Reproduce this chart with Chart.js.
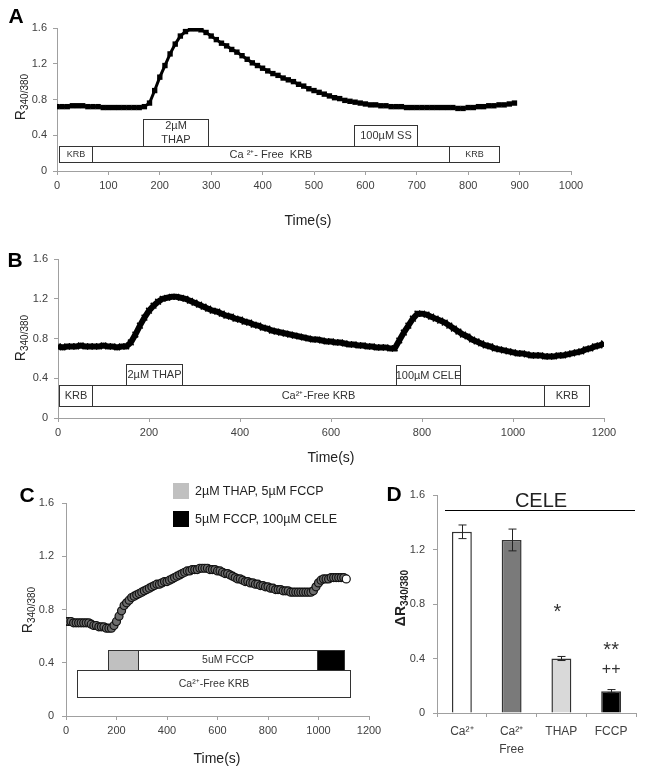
<!DOCTYPE html>
<html>
<head>
<meta charset="utf-8">
<script src="https://cdn.jsdelivr.net/npm/chart.js@4.4.0/dist/chart.umd.min.js"></script>
<style>
  body { margin: 0; background: #fff; }
  #fig { position: relative; width: 645px; height: 774px; font-family: 'Liberation Sans', Arial, sans-serif; color: #222; }
  canvas { position: absolute; }
  .lbl { position: absolute; transform: translate(-50%, -50%); white-space: nowrap; }
  .panel { font-weight: bold; font-size: 21px; color: #000; }
  .ytitle { position: absolute; transform: translate(-50%, -50%) rotate(-90deg); white-space: nowrap; font-size: 14px; }
  .ytitle sub { font-size: 10px; vertical-align: -3px; }
  .xtitle { font-size: 14px; }
  .sq { position: absolute; width: 16px; height: 16px; }
</style>
</head>
<body>
<div id="fig">
  <canvas id="cA" width="645" height="230" style="left:0;top:0"></canvas>
  <canvas id="cB" width="645" height="225" style="left:0;top:225px"></canvas>
  <canvas id="cC" width="400" height="324" style="left:0;top:450px"></canvas>
  <canvas id="cD" width="265" height="324" style="left:380px;top:450px"></canvas>

  <div class="lbl panel" style="left:16px;top:16px">A</div>
  <div class="lbl panel" style="left:15px;top:260px">B</div>
  <div class="lbl panel" style="left:27px;top:495px">C</div>
  <div class="lbl panel" style="left:394px;top:494px">D</div>

  <div class="ytitle" style="left:21px;top:97px">R<sub>340/380</sub></div>
  <div class="ytitle" style="left:21px;top:338px">R<sub>340/380</sub></div>
  <div class="ytitle" style="left:28px;top:610px">R<sub>340/380</sub></div>
  <div class="ytitle" style="left:401px;top:598px;font-weight:bold">ΔR<sub>340/380</sub></div>

  <div class="lbl xtitle" style="left:308px;top:220px">Time(s)</div>
  <div class="lbl xtitle" style="left:331px;top:457px">Time(s)</div>
  <div class="lbl xtitle" style="left:217px;top:758px">Time(s)</div>

  <div class="sq" style="left:173px;top:483px;background:#c0c0c0"></div>
  <div class="lbl" style="left:195px;top:491px;transform:translateY(-50%);font-size:12.5px">2µM THAP, 5µM FCCP</div>
  <div class="sq" style="left:173px;top:511px;background:#000"></div>
  <div class="lbl" style="left:195px;top:519px;transform:translateY(-50%);font-size:12.5px">5µM FCCP, 100µM CELE</div>

  <div class="lbl" style="left:541px;top:500px;font-size:20px">CELE</div>
  <div style="position:absolute;left:445px;top:510px;width:190px;height:1px;background:#000"></div>
</div>
<script>
// Fura-2 ratio traces, one sample every 10 s
const aStep = 10;
const aRatio = [0.72,0.72,0.72,0.73,0.73,0.73,0.72,0.72,0.72,0.71,0.71,0.71,0.71,0.71,0.71,0.71,0.71,0.72,
  0.76,0.90,1.05,1.18,1.31,1.42,1.51,1.56,1.59,1.59,1.58,1.55,
  1.51,1.47,1.43,1.40,1.36,1.33,1.29,1.25,1.21,1.18,
  1.15,1.12,1.09,1.07,1.04,1.02,1.00,0.97,0.95,0.92,
  0.90,0.88,0.86,0.84,0.82,0.81,0.79,0.78,0.77,0.76,
  0.75,0.74,0.74,0.73,0.73,0.72,0.72,0.72,0.71,0.71,
  0.71,0.71,0.71,0.71,0.71,0.71,0.71,0.71,0.70,0.70,
  0.71,0.71,0.72,0.72,0.73,0.73,0.74,0.74,0.75,0.76];

const bStep = 10;
const bRatio = [0.72,0.71,0.72,0.72,0.72,0.73,0.72,0.72,0.72,0.72,0.73,0.72,0.72,0.71,0.72,0.72,
  0.76,0.84,0.93,1.01,1.08,1.13,1.17,1.20,1.21,1.22,
  1.22,1.21,1.20,1.18,1.16,1.14,1.12,1.10,1.08,1.07,
  1.05,1.03,1.02,1.00,0.99,0.97,0.96,0.94,0.93,0.91,
  0.90,0.88,0.87,0.86,0.85,0.84,0.83,0.82,0.81,0.80,
  0.79,0.79,0.78,0.77,0.77,0.76,0.76,0.75,0.74,0.74,
  0.73,0.73,0.72,0.72,0.71,0.71,0.71,0.70,0.70,0.78,
  0.86,0.93,1.00,1.05,1.05,1.04,1.02,1.00,0.98,0.96,
  0.93,0.90,0.87,0.84,0.82,0.79,0.77,0.75,0.73,0.72,
  0.70,0.69,0.68,0.67,0.66,0.65,0.65,0.64,0.63,0.63,
  0.63,0.62,0.62,0.62,0.63,0.63,0.64,0.65,0.66,0.67,
  0.69,0.70,0.72,0.73,0.75,0.76];

const cStep = 10;
const cRatio = [0.71,0.71,0.71,0.70,0.70,0.70,0.70,0.70,0.70,0.70,
  0.69,0.68,0.68,0.67,0.67,0.67,0.66,0.66,0.66,0.68,
  0.71,0.75,0.79,0.83,0.85,0.87,0.89,0.90,0.91,0.92,
  0.93,0.94,0.95,0.96,0.97,0.98,0.99,0.99,1.00,1.01,
  1.01,1.02,1.03,1.04,1.05,1.06,1.07,1.08,1.09,1.09,
  1.10,1.10,1.10,1.11,1.11,1.11,1.11,1.10,1.10,1.10,
  1.09,1.09,1.08,1.07,1.07,1.06,1.05,1.04,1.03,1.03,
  1.02,1.01,1.01,1.00,1.00,0.99,0.99,0.98,0.98,0.97,
  0.97,0.96,0.96,0.95,0.95,0.95,0.94,0.94,0.94,0.93,
  0.93,0.93,0.93,0.93,0.93,0.93,0.93,0.93,0.94,0.97,
  1.00,1.02,1.03,1.03,1.03,1.04,1.04,1.04,1.04,1.04,
  1.04,1.03];

// treatment bars: [start s, end s, label, fill]
const aBuffer = [[3, 68, 'KRB'], [68, 762, 'Ca ²⁺- Free  KRB'], [762, 860, 'KRB']];
const aDrug = [[167, 293, '2µM\nTHAP'], [577, 700, '100µM SS']];
const bBuffer = [[3, 75, 'KRB'], [75, 1068, 'Ca²⁺-Free KRB'], [1068, 1168, 'KRB']];
const bDrug = [[149, 272, '2µM THAP'], [743, 884, '100µM CELE']];
const cBuffer = [[42, 1126, 'Ca²⁺-Free KRB']];
const cDrug = [[166, 286, '', '#c0c0c0'], [286, 993, '5uM FCCP'], [993, 1101, '', '#000']];

// panel D
const dGroups = [['Ca²⁺'], ['Ca²⁺', 'Free'], ['THAP'], ['FCCP']];
const dDelta = [1.33, 1.27, 0.40, 0.16];
const dErr = [0.05, 0.08, 0.015, 0.012];
const dColors = ['#ffffff', '#7a7a7a', '#d9d9d9', '#000000'];

const fam = "'Liberation Sans', Arial, sans-serif";
const axisCol = '#a0a0a0';
const tickCol = '#404040';

function pts(vals, step) {
  return vals.map((v, i) => ({ x: i * step, y: v }));
}

function xAxis(max, step) {
  return {
    type: 'linear', min: 0, max: max,
    ticks: { stepSize: step, color: tickCol, font: { size: 11, family: fam }, maxRotation: 0, padding: 4,
      callback: v => String(v) },
    grid: { drawOnChartArea: false, tickLength: 4, color: axisCol },
    border: { color: axisCol },
    afterFit: s => { s.height = 20; }
  };
}
function yAxis(w, pad) {
  return {
    min: 0, max: 1.6,
    ticks: { stepSize: 0.4, color: tickCol, font: { size: 11, family: fam }, padding: pad },
    grid: { drawOnChartArea: false, tickLength: 4, color: axisCol },
    border: { color: axisCol },
    afterFit: s => { s.width = w; }
  };
}

// draws the treatment boxes under the traces
const boxPlugin = {
  id: 'boxes',
  afterDatasetsDraw(chart, args, opts) {
    const { ctx, scales: { x, y } } = chart;
    ctx.save();
    opts.rows.forEach(row => {
      row.items.forEach((it, i) => {
        const top = Array.isArray(row.hi) ? row.hi[i] : row.hi;
        const x0 = Math.round(x.getPixelForValue(it[0])) + 0.5;
        const x1 = Math.round(x.getPixelForValue(it[1])) + 0.5;
        const y0 = Math.round(y.getPixelForValue(top)) + 0.5;
        const y1 = Math.round(y.getPixelForValue(row.lo)) + 0.5;
        ctx.fillStyle = it[3] || '#fff';
        ctx.fillRect(x0, y0, x1 - x0, y1 - y0);
        ctx.strokeStyle = '#333';
        ctx.lineWidth = 1;
        ctx.strokeRect(x0, y0, x1 - x0, y1 - y0);
        if (it[2]) {
          const lines = it[2].split('\n');
          const fs = (row.fonts && row.fonts[i]) || row.font || 11;
          ctx.font = fs + 'px ' + fam;
          ctx.fillStyle = '#333';
          ctx.textAlign = 'center';
          ctx.textBaseline = 'middle';
          const lh = fs + 3;
          const cy = (y0 + y1) / 2 - (lines.length - 1) * lh / 2;
          lines.forEach((t, k) => ctx.fillText(t, (x0 + x1) / 2, cy + k * lh));
        }
      });
    });
    ctx.restore();
  }
};

Chart.defaults.animation = false;
Chart.defaults.font.family = fam;

function traceChart(id, data, ds, xmax, xstep, ywidth, ypad, padding, rows) {
  return new Chart(document.getElementById(id), {
    type: 'line',
    data: { datasets: [Object.assign({ data: data, tension: 0 }, ds)] },
    options: {
      responsive: false,
      layout: { padding: padding },
      plugins: { legend: { display: false }, tooltip: { enabled: false }, boxes: { rows: rows } },
      scales: { x: xAxis(xmax, xstep), y: yAxis(ywidth, ypad) }
    },
    plugins: [boxPlugin]
  });
}

traceChart('cA', pts(aRatio, aStep), {
  borderColor: '#000', borderWidth: 3, pointStyle: 'rect', pointRadius: 3.8,
  pointBackgroundColor: '#000', pointBorderColor: '#000', pointBorderWidth: 0
}, 1000, 100, 57, 6, { left: 0, top: 28, right: 74, bottom: 39 }, [
  { items: aBuffer, lo: 0.104, hi: 0.28, fonts: [9, 11, 9] },
  { items: aDrug, lo: 0.28, hi: [0.58, 0.51], font: 11 }
]);

traceChart('cB', pts(bRatio, bStep), {
  borderColor: '#000', borderWidth: 6, pointStyle: 'crossRot', pointRadius: 4,
  pointBorderColor: '#000', pointBorderWidth: 1.5
}, 1200, 200, 58, 6, { left: 0, top: 34, right: 41, bottom: 12 }, [
  { items: bBuffer, lo: 0.124, hi: 0.33, font: 11 },
  { items: bDrug, lo: 0.33, hi: [0.546, 0.53], font: 11 }
]);

const cData = pts(cRatio, cStep);
traceChart('cC', cData, {
  showLine: false, pointStyle: 'circle', pointRadius: 4,
  pointBackgroundColor: cData.map((p, i) => i === cData.length - 1 ? '#fff' : '#6e6e6e'),
  pointBorderColor: '#111', pointBorderWidth: 1.2
}, 1200, 200, 66, 8, { left: 0, top: 53, right: 31, bottom: 38 }, [
  { items: cBuffer, lo: 0.139, hi: 0.345, font: 10.5 },
  { items: cDrug, lo: 0.345, hi: 0.495, font: 10.5 }
]);

// error bars and significance marks for D
const errPlugin = {
  id: 'errs',
  afterDatasetsDraw(chart, args, opts) {
    const { ctx, scales: { y } } = chart;
    const meta = chart.getDatasetMeta(0);
    ctx.save();
    ctx.strokeStyle = '#222';
    ctx.lineWidth = 1;
    meta.data.forEach((bar, i) => {
      const cx = Math.round(bar.x) + 0.5;
      const yt = y.getPixelForValue(dDelta[i] + dErr[i]);
      const yb = y.getPixelForValue(dDelta[i] - dErr[i]);
      ctx.beginPath();
      ctx.moveTo(cx, yt); ctx.lineTo(cx, yb);
      ctx.moveTo(cx - 4, yt); ctx.lineTo(cx + 4, yt);
      ctx.moveTo(cx - 4, yb); ctx.lineTo(cx + 4, yb);
      ctx.stroke();
    });
    ctx.fillStyle = '#333';
    ctx.textAlign = 'center';
    ctx.textBaseline = 'middle';
    opts.marks.forEach(m => {
      ctx.font = m[4] + 'px ' + fam;
      const bx = meta.data[m[0]].x + (m[3] || 0);
      ctx.fillText(m[1], bx, y.getPixelForValue(m[2]));
    });
    ctx.restore();
  }
};

new Chart(document.getElementById('cD'), {
  type: 'bar',
  data: {
    labels: dGroups,
    datasets: [{
      data: dDelta,
      backgroundColor: dColors,
      borderColor: '#333',
      borderWidth: 1.5,
      categoryPercentage: 1,
      barPercentage: 0.4
    }]
  },
  options: {
    responsive: false,
    layout: { padding: { left: 0, top: 45, right: 9, bottom: 17 } },
    plugins: {
      legend: { display: false }, tooltip: { enabled: false },
      errs: { marks: [[2, '*', 0.74, -4, 20], [3, '**', 0.46, 0, 20], [3, '++', 0.32, 0, 16]] }
    },
    scales: {
      x: {
        ticks: { color: tickCol, font: { size: 12, family: fam, lineHeight: 1.5 }, padding: 6, maxRotation: 0 },
        grid: { drawOnChartArea: false, tickLength: 4, color: axisCol },
        border: { color: axisCol },
        afterFit: s => { s.height = 44; }
      },
      y: yAxis(57, 8)
    }
  },
  plugins: [errPlugin]
});
</script>
</body>
</html>
